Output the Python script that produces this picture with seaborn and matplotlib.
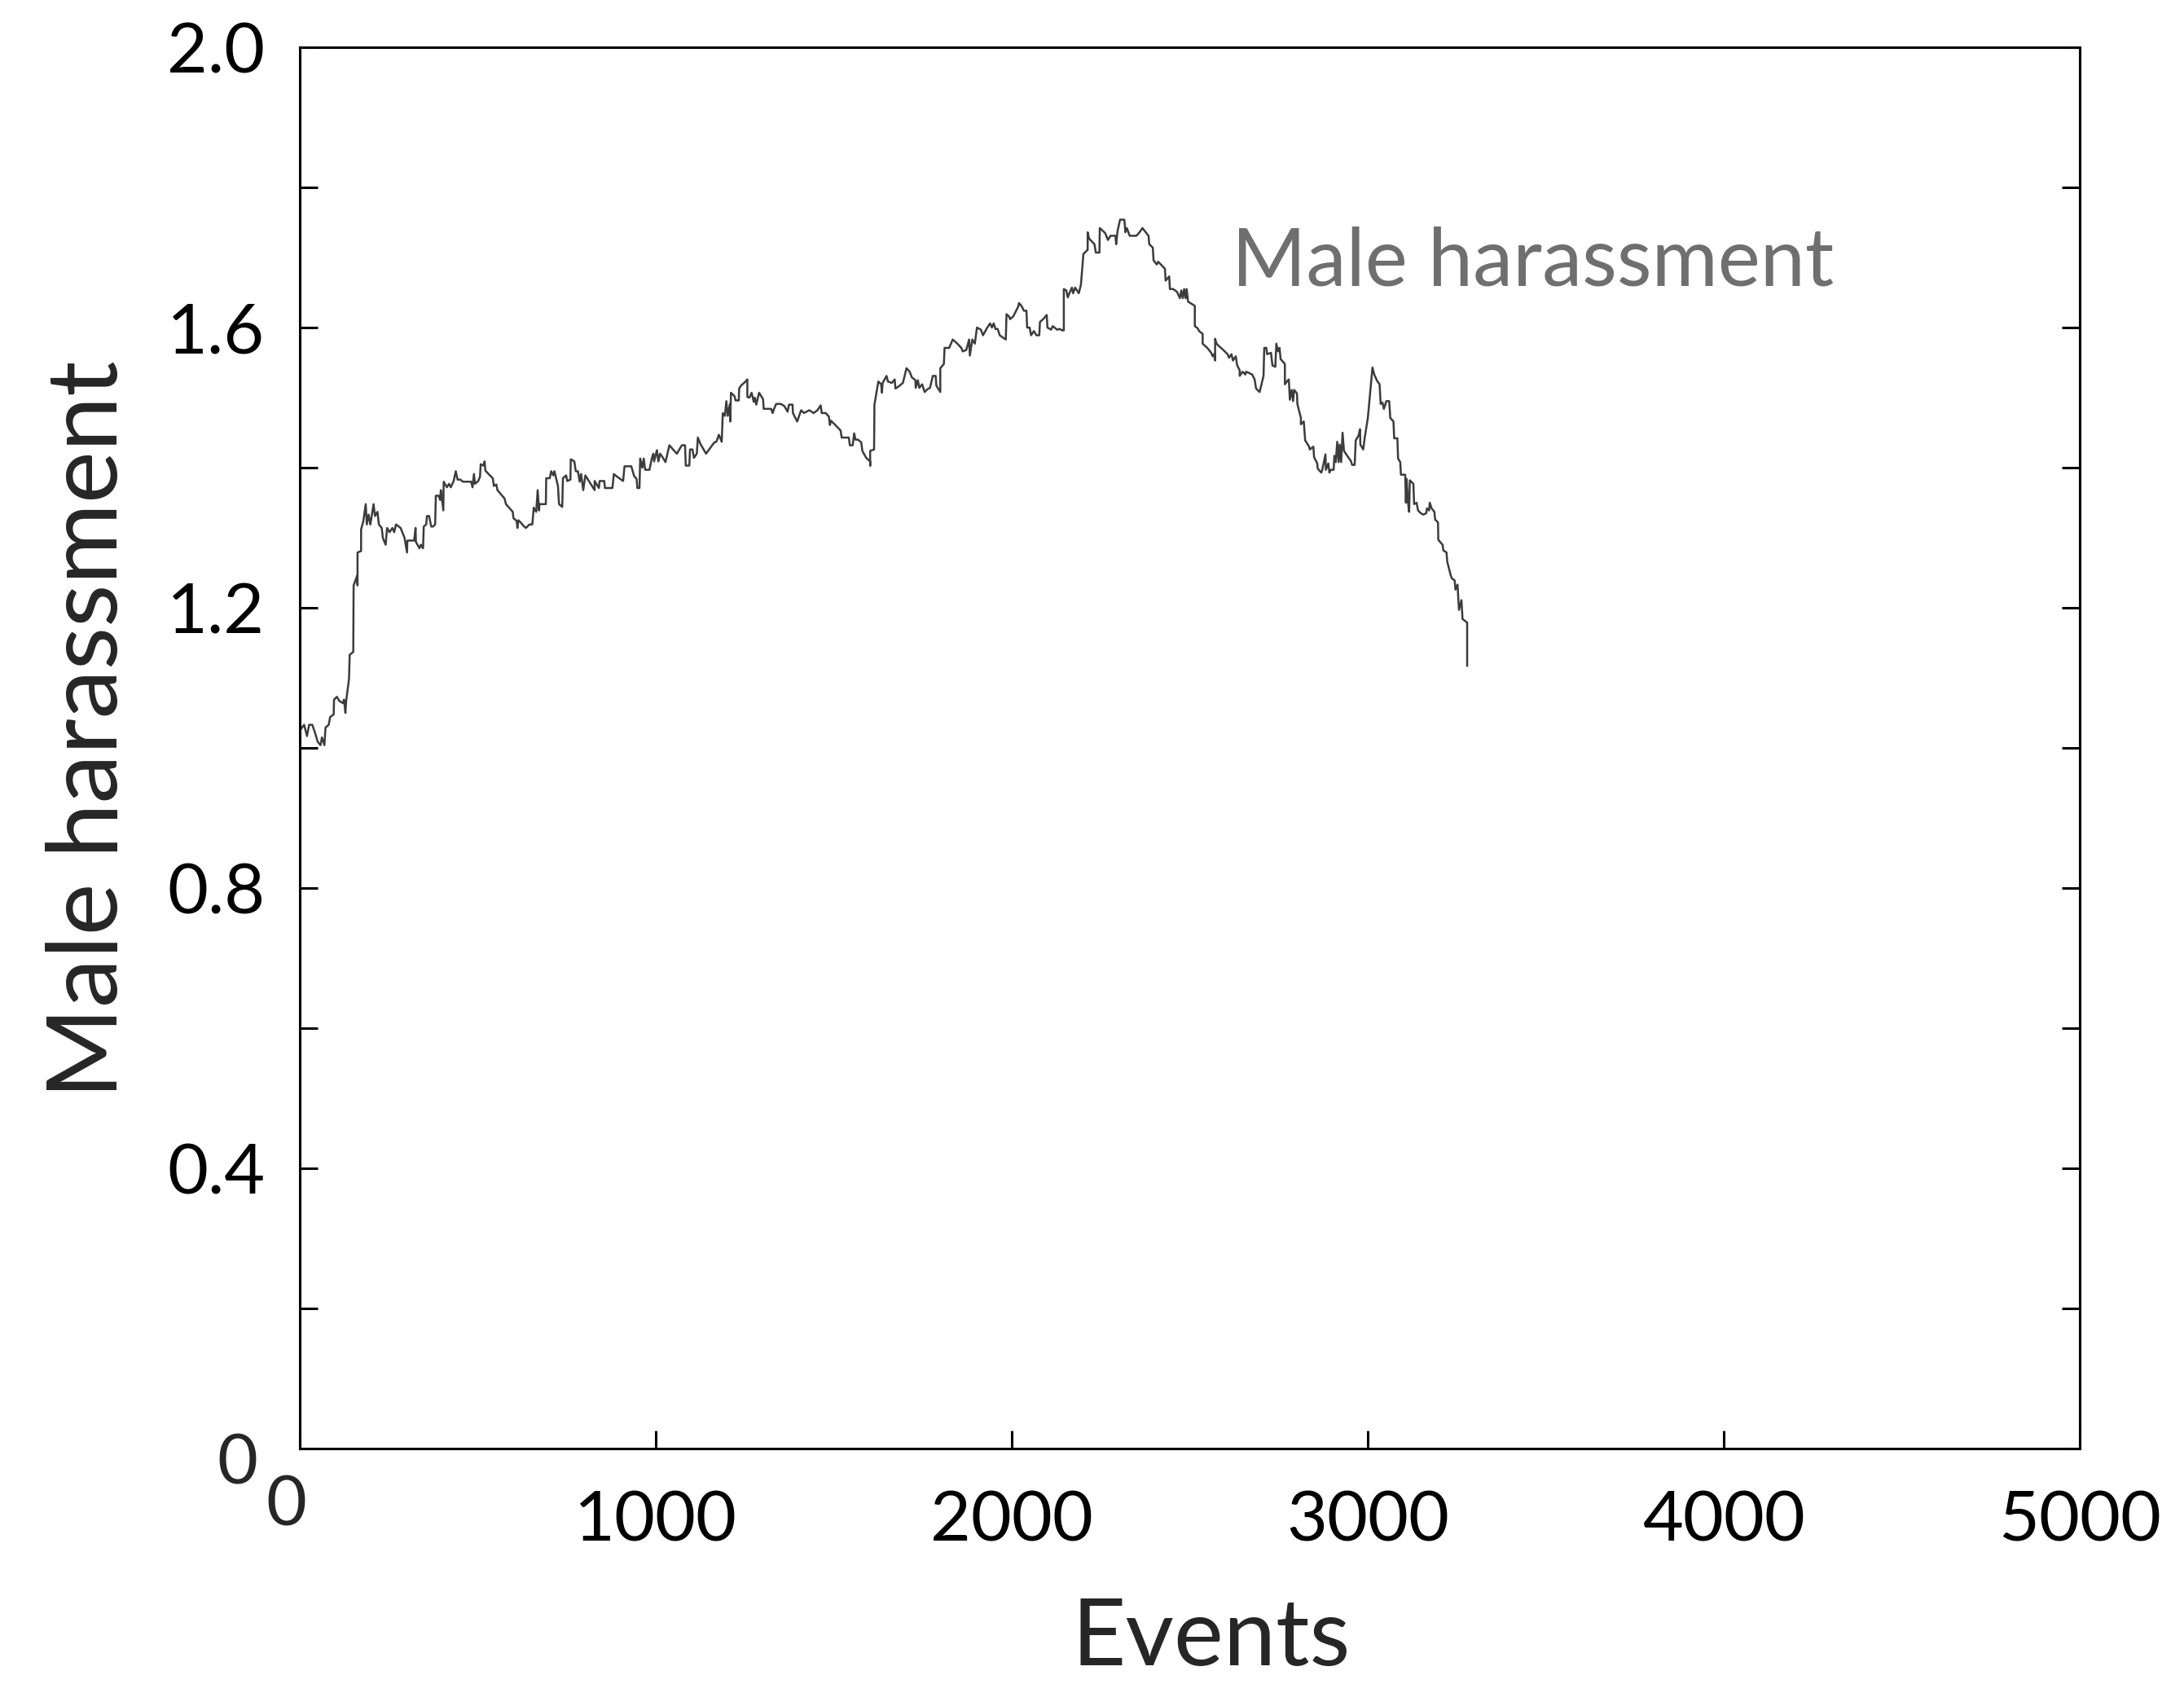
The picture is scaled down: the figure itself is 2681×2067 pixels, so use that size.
import pandas as pd
import seaborn as sns
import matplotlib.pyplot as plt
from matplotlib.transforms import offset_copy

# values
events = [0, 12, 20, 26, 35, 43, 50, 58, 62, 69, 72, 81, 85, 95, 96, 104, 111, 121, 124, 128, 130, 138, 140, 150, 151, 161, 162, 162, 172, 172, 178, 185, 188, 193, 198, 207, 211, 218, 222, 230, 233, 241, 245, 252, 260, 265, 270, 283, 294, 301, 302, 321, 325, 326, 336, 340, 346, 348, 355, 357, 363, 369, 374, 380, 382, 390, 394, 396, 403, 404, 413, 419, 424, 432, 438, 443, 451, 458, 481, 485, 489, 492, 501, 506, 508, 515, 519, 521, 530, 542, 545, 552, 555, 575, 579, 598, 600, 609, 611, 614, 622, 628, 635, 645, 653, 657, 664, 668, 672, 673, 691, 692, 702, 706, 712, 715, 725, 728, 737, 739, 748, 751, 760, 761, 771, 775, 781, 786, 790, 796, 802,
          813, 828, 828, 840, 842, 855, 857, 878, 882, 889, 908, 912, 931, 939, 946, 948, 954, 956, 962, 966, 970, 982, 989, 993, 995, 1003, 1007, 1012, 1020, 1027, 1038, 1050, 1059, 1073, 1082, 1084, 1094, 1096, 1103, 1107, 1115, 1118, 1125, 1141, 1164, 1170, 1177, 1185, 1188, 1194, 1198, 1202, 1208, 1209, 1211, 1221, 1224, 1233, 1234, 1239, 1252, 1257, 1257, 1263, 1269, 1275, 1278, 1282, 1290, 1301, 1303, 1324, 1328, 1332, 1338, 1351, 1361, 1370, 1374, 1384, 1385, 1397, 1408, 1416, 1431, 1443, 1454, 1463, 1466, 1477, 1486, 1489, 1492, 1504, 1519, 1522, 1542, 1545, 1553, 1557, 1561, 1568, 1577, 1580, 1591, 1602, 1602, 1602, 1613, 1614, 1625, 1633, 1635, 1637, 1648, 1652, 1663, 1671, 1673,
          1682, 1694, 1704, 1713, 1719, 1729, 1730, 1736, 1740, 1748, 1755, 1763, 1770, 1778, 1786, 1788, 1799, 1799, 1809, 1811, 1824, 1834, 1847, 1858, 1862, 1872, 1880, 1882, 1889, 1896, 1902, 1913, 1919, 1931, 1939, 1944, 1949, 1954, 1960, 1966, 1977, 1983, 1985, 1992, 1995, 2004, 2010, 2018, 2020, 2027, 2034, 2041, 2043, 2050, 2054, 2062, 2069, 2077, 2079, 2088, 2098, 2100, 2110, 2115, 2127, 2134, 2142, 2146, 2146, 2153, 2157, 2165, 2169, 2172, 2178, 2188, 2194, 2201, 2213, 2213, 2217, 2232, 2236, 2246, 2247, 2262, 2270, 2277, 2291, 2293, 2297, 2304, 2316, 2319, 2323, 2331, 2350, 2357, 2367, 2373, 2384, 2386, 2396, 2398, 2407, 2411, 2430, 2432, 2442, 2444,
          2453, 2464, 2472, 2476, 2480, 2484, 2488, 2491, 2495, 2514, 2514, 2522, 2526, 2536, 2536, 2549, 2560, 2564, 2568, 2571, 2571, 2575, 2583, 2594, 2606, 2610, 2617, 2621, 2629, 2633, 2640, 2640, 2648, 2656, 2658, 2667, 2675, 2682, 2686, 2696, 2707, 2709, 2715, 2717, 2728, 2732, 2740, 2743, 2748, 2752, 2755, 2767, 2767, 2774, 2778, 2781, 2786, 2790, 2793, 2801, 2802, 2812, 2812, 2820, 2824, 2835, 2837, 2847, 2849, 2858, 2859, 2869, 2872, 2881, 2882, 2889, 2892, 2896, 2904, 2906, 2910, 2914, 2918, 2921, 2925, 2929, 2933, 2942, 2952, 2956, 2963, 2966, 2974, 2978, 2979, 2987, 2991, 3000, 3013, 3018, 3026, 3033, 3036, 3041, 3045, 3052, 3060, 3063, 3072, 3074, 3083, 3085, 3091, 3093, 3105, 3107, 3109, 3113, 3116, 3118, 3128, 3130, 3137, 3141, 3149, 3156, 3164, 3166, 3172, 3174, 3179, 3187, 3189, 3197, 3198, 3210, 3212, 3221, 3223, 3233, 3236, 3244, 3246, 3252, 3256, 3263, 3266, 3279, 3279]

harassment = [1.025, 1.033, 1.017, 1.033, 1.033, 1.021, 1.009, 1.004, 1.015, 1.004, 1.029, 1.033, 1.044, 1.048, 1.069, 1.073, 1.067, 1.064, 1.069, 1.050, 1.067, 1.098, 1.133, 1.137, 1.232, 1.246, 1.232, 1.279, 1.281, 1.312, 1.323, 1.348, 1.319, 1.333, 1.319, 1.348, 1.331, 1.337, 1.319, 1.314, 1.300, 1.290, 1.314, 1.308, 1.314, 1.308, 1.319, 1.314, 1.300, 1.279, 1.296, 1.296, 1.314, 1.294, 1.285, 1.290, 1.285, 1.316, 1.319, 1.331, 1.331, 1.316, 1.316, 1.319, 1.360, 1.360, 1.354, 1.368, 1.339, 1.380, 1.372, 1.377, 1.372, 1.381, 1.395, 1.383, 1.383, 1.380, 1.380, 1.372, 1.391, 1.377, 1.381, 1.387, 1.405, 1.403, 1.409, 1.396, 1.391, 1.385, 1.374, 1.376, 1.368, 1.356, 1.348, 1.337, 1.328, 1.324, 1.314, 1.325, 1.321, 1.317, 1.314, 1.319, 1.319, 1.343, 1.337, 1.368, 1.339, 1.348, 1.348, 1.385, 1.385, 1.395, 1.389, 1.395, 1.374, 1.348, 1.344, 1.385, 1.389, 1.381, 1.383, 1.412, 1.409, 1.395, 1.395, 1.380, 1.391, 1.368, 1.389,
              1.380, 1.368, 1.381, 1.371, 1.381, 1.381, 1.371, 1.371, 1.391, 1.388, 1.381, 1.402, 1.402, 1.388, 1.384, 1.371, 1.371, 1.413, 1.400, 1.413, 1.397, 1.397, 1.414, 1.420, 1.409, 1.425, 1.409, 1.420, 1.414, 1.408, 1.432, 1.425, 1.420, 1.432, 1.432, 1.403, 1.403, 1.426, 1.426, 1.414, 1.420, 1.443, 1.434, 1.420, 1.436, 1.437, 1.447, 1.437, 1.478, 1.474, 1.495, 1.474, 1.491, 1.466, 1.507, 1.502, 1.496, 1.496, 1.513, 1.517, 1.523, 1.526, 1.501, 1.500, 1.507, 1.494, 1.500, 1.490, 1.507, 1.498, 1.484, 1.484, 1.478, 1.484, 1.491, 1.491, 1.488, 1.480, 1.490, 1.490, 1.478, 1.466, 1.482, 1.478, 1.482, 1.478, 1.482, 1.489, 1.478, 1.478, 1.473, 1.461, 1.467, 1.461, 1.453, 1.443, 1.443, 1.432, 1.432, 1.449, 1.440, 1.440, 1.436, 1.424, 1.414, 1.409, 1.403, 1.424, 1.426, 1.490, 1.523, 1.519, 1.507, 1.521, 1.531, 1.523, 1.521, 1.526, 1.513,
              1.516, 1.521, 1.542, 1.537, 1.529, 1.525, 1.514, 1.525, 1.514, 1.519, 1.508, 1.512, 1.514, 1.531, 1.531, 1.517, 1.508, 1.542, 1.548, 1.571, 1.571, 1.583, 1.577, 1.571, 1.566, 1.568, 1.583, 1.560, 1.583, 1.577, 1.600, 1.597, 1.589, 1.600, 1.606, 1.600, 1.606, 1.598, 1.598, 1.589, 1.585, 1.583, 1.619, 1.616, 1.612, 1.616, 1.622, 1.630, 1.635, 1.631, 1.624, 1.624, 1.600, 1.600, 1.589, 1.595, 1.589, 1.589, 1.608, 1.612, 1.618, 1.600, 1.597, 1.602, 1.597, 1.598, 1.596, 1.596, 1.655, 1.653, 1.643, 1.653, 1.657, 1.649, 1.657, 1.649, 1.661, 1.705, 1.711, 1.736, 1.727, 1.719, 1.707, 1.707, 1.742, 1.735, 1.725, 1.731, 1.731, 1.719, 1.738, 1.754, 1.754, 1.736, 1.742, 1.731, 1.731, 1.735, 1.742, 1.738, 1.731, 1.719, 1.714, 1.696, 1.690, 1.694, 1.684, 1.667, 1.673, 1.655,
              1.655, 1.651, 1.642, 1.653, 1.642, 1.655, 1.642, 1.655, 1.637, 1.631, 1.602, 1.599, 1.595, 1.591, 1.577, 1.571, 1.564, 1.559, 1.562, 1.553, 1.584, 1.577, 1.573, 1.568, 1.562, 1.557, 1.562, 1.553, 1.559, 1.546, 1.539, 1.531, 1.537, 1.533, 1.537, 1.535, 1.533, 1.526, 1.513, 1.508, 1.531, 1.571, 1.571, 1.562, 1.564, 1.546, 1.544, 1.577, 1.566, 1.571, 1.555, 1.548, 1.519, 1.524, 1.526, 1.497, 1.511, 1.495, 1.511, 1.506, 1.491, 1.471, 1.462, 1.466, 1.439, 1.430, 1.426, 1.430, 1.415, 1.406, 1.399, 1.393, 1.397, 1.419, 1.397, 1.406, 1.393, 1.397, 1.397, 1.417, 1.408, 1.437, 1.408, 1.433, 1.408, 1.450, 1.424, 1.417, 1.410, 1.404, 1.404, 1.439, 1.446, 1.455, 1.433, 1.426, 1.442, 1.471, 1.543, 1.533, 1.524, 1.519, 1.491, 1.493, 1.484, 1.495, 1.495, 1.471, 1.466, 1.442, 1.442, 1.413, 1.408, 1.390, 1.390, 1.350, 1.384, 1.350, 1.337, 1.382, 1.377, 1.348, 1.350, 1.339, 1.335, 1.333, 1.335, 1.342, 1.339, 1.350, 1.342, 1.337, 1.326, 1.322, 1.297, 1.290, 1.282, 1.279, 1.266, 1.246, 1.242, 1.239, 1.226, 1.233, 1.197, 1.211, 1.184, 1.179, 1.117]

x_ticks = [0, 1000, 2000, 3000, 4000, 5000]
x_tick_labels = ['', '1000', '2000', '3000', '4000', '5000']
y_ticks = [0, 0.2, 0.4, 0.6, 0.8, 1.0, 1.2, 1.4, 1.6, 1.8, 2.0]
y_tick_labels = ['', '', '0.4', '', '0.8', '', '1.2', '', '1.6', '', '2.0']

df = pd.DataFrame({'events': events, 'harassment': harassment})

sns.set_style('white')
plt.rcParams['font.family'] = ['Lato', 'DejaVu Sans']

fig = plt.figure(figsize=(26.81, 20.67), dpi=100)
ax = fig.add_axes([0.1373, 0.1398, 0.815, 0.8321])

sns.lineplot(data=df, x='events', y='harassment', estimator=None, sort=False,
             color='#3c3c3c', linewidth=1.8, ax=ax)

ax.set_xlim(0, 5000)
ax.set_ylim(0, 2.0)
ax.set_xticks(x_ticks)
ax.set_xticklabels(x_tick_labels)
ax.set_yticks(y_ticks)
ax.set_yticklabels(y_tick_labels)
ax.tick_params(axis='both', direction='in', length=16, width=2.2,
               labelsize=62, colors='black')
ax.tick_params(axis='y', right=True, left=True, pad=31)
ax.tick_params(axis='x', top=False, bottom=True, pad=36)
for s in ax.spines.values():
    s.set_visible(True)
    s.set_linewidth(2.2)
    s.set_color('black')

# the two zero labels sit slightly off their ticks in the original
ax.text(0, 0, '0', fontsize=62, ha='right', va='center',
        transform=offset_copy(ax.get_yaxis_transform(), fig=fig, x=-37, y=-14, units='points'))
ax.text(0, 0, '0', fontsize=62, ha='center', va='top',
        transform=offset_copy(ax.get_xaxis_transform(), fig=fig, x=-12, y=-23, units='points'))

ax.set_xlabel('Events', fontsize=83)
ax.set_ylabel('Male harassment', fontsize=87)
ax.xaxis.set_label_coords(0.512, -0.106)
ax.yaxis.set_label_coords(-0.093, 0.513)

ax.text(2618, 1.660, 'Male harassment', fontsize=71, color='#6f6f6f',
        ha='left', va='baseline')

fig.savefig('out.png', dpi=100)
